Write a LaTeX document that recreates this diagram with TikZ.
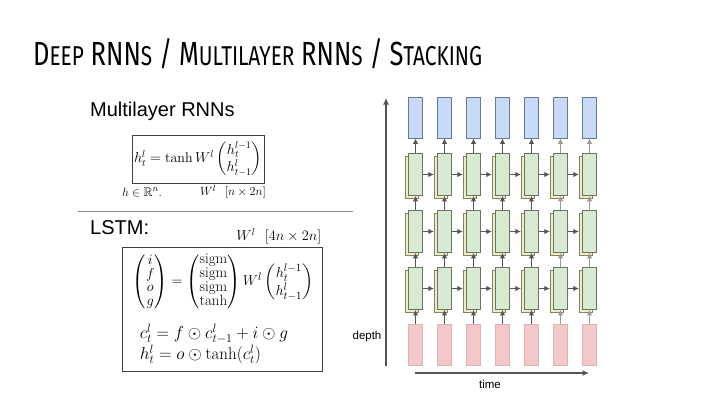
\documentclass[tikz,border=0pt]{standalone}
\usepackage{amsmath,amssymb}
\usepackage{fontspec}
\usepackage{xcolor}
\usepackage{tikz}
\usetikzlibrary{arrows.meta, positioning}

\newfontfamily\arialfont{Liberation Sans}
\newfontfamily\titlefont{Fira Sans}
\newcommand{\tsc}[2]{#1{\fontsize{22}{22}\selectfont #2}}

\definecolor{outfill}{HTML}{C9DAF8}
\definecolor{outdraw}{HTML}{687A94}
\definecolor{cellfill}{HTML}{D9EAD3}
\definecolor{celldraw}{HTML}{6E7262}
\definecolor{backfill}{HTML}{ECEECB}
\definecolor{backdraw}{HTML}{85835E}
\definecolor{infill}{HTML}{F4C7C9}
\definecolor{indraw}{HTML}{DDB3B5}
\definecolor{arrowdark}{HTML}{555555}
\definecolor{arrowlight}{HTML}{9A9A9A}

\begin{document}
\begin{tikzpicture}[x=1pt, y=-1pt,
    outbox/.style={draw=outdraw, fill=outfill, line width=0.7pt, minimum width=14pt, minimum height=41pt, inner sep=0pt},
    cellbox/.style={draw=celldraw, fill=cellfill, line width=0.7pt, minimum width=13.5pt, minimum height=42pt, inner sep=0pt},
    backbox/.style={draw=backdraw, fill=backfill, line width=0.7pt, minimum width=13.5pt, minimum height=42pt, inner sep=0pt},
    inbox/.style={draw=indraw, fill=infill, line width=0.7pt, minimum width=14pt, minimum height=41pt, inner sep=0pt},
    conn/.style={-{Latex[length=5.5pt, width=5.5pt]}, line width=1.8pt, draw=arrowdark},
    axis/.style={-{Latex[length=6.5pt, width=6pt]}, draw=arrowdark},
    eqbox/.style={draw=black!75, line width=0.9pt, inner sep=0pt, font=\fontsize{15}{17}\selectfont},
    txtlabel/.style={font=\arialfont\fontsize{20}{22}\selectfont, anchor=west, inner sep=0pt},
    axislabel/.style={font=\arialfont\fontsize{11.5}{13}\selectfont}
]
\useasboundingbox[fill=white] (0,0) rectangle (720,405);

% title
\node[anchor=base west, inner sep=0pt] (title) at (33,65)
    {\resizebox{449pt}{27pt}{\titlefont\fontsize{27}{27}\selectfont\tsc{D}{EEP} \tsc{RNN}{S} / \tsc{M}{ULTILAYER} \tsc{RNN}{S} / \tsc{S}{TACKING}}};

% formulas
\node[txtlabel] (mlrnn) at (90,111) {Multilayer RNNs};
\node[eqbox, font=\fontsize{14}{17}\selectfont, minimum width=132pt, minimum height=48pt] (rnnbox) at (198,159)
    {$h_t^l = \tanh W^l \begin{pmatrix} h_t^{l-1}\\ h_{t-1}^l \end{pmatrix}$};
\node[font=\fontsize{12.5}{14}\selectfont] (hdim) at (142,192) {$h\in\mathbb{R}^n.$};
\node[font=\fontsize{13}{15}\selectfont] (wdim) at (233,192) {$W^l\ \ [n\times 2n]$};
\draw[black!45, line width=1pt] (78,211) -- (353,211);

\node[txtlabel] (lstm) at (90,228) {LSTM:};
\node[eqbox, minimum width=200pt, minimum height=124pt, align=left] (lstmbox) at (222,309)
    {\hspace{2pt}$\renewcommand{\arraystretch}{0.8}\begin{pmatrix} i\\ f\\ o\\ g \end{pmatrix} = \begin{pmatrix} \mathrm{sigm}\\ \mathrm{sigm}\\ \mathrm{sigm}\\ \tanh \end{pmatrix} W^l \renewcommand{\arraystretch}{1}\begin{pmatrix} h_t^{l-1}\\ h_{t-1}^l \end{pmatrix}$\\[13pt]
     \fontsize{17}{21}\selectfont\hspace{9pt}$c_t^l = f\odot c_{t-1}^l + i\odot g$\\
     \fontsize{17}{21}\selectfont\hspace{9pt}$h_t^l = o\odot\tanh(c_t^l)$};
\node[above left=1pt and 0pt of lstmbox.north east, inner sep=1pt, font=\fontsize{14.5}{16}\selectfont] (wlstm) {$W^l\ \ [4n\times 2n]$};

% stacked rnn
\foreach \i in {1,...,7}{
    \pgfmathsetmacro\cx{415.5+29*(\i-1)}
    \node[outbox] (o\i) at (\cx,117.5) {};
    \foreach \r/\cy in {1/174.5, 2/231.5, 3/288.5}{
        \node[backbox] (hb\r-\i) at (\cx-3.5,\cy+2.5) {};
        \node[cellbox] (h\r-\i) at (\cx,\cy) {};
    }
    \node[inbox] (x\i) at (\cx,344.5) {};
}

\foreach \i/\col in {1/arrowdark, 2/arrowdark, 3/arrowdark, 4/arrowdark, 5/arrowdark, 6/arrowlight, 7/arrowlight}{
    \draw[conn, draw=\col] (h1-\i) -- (o\i);
    \draw[conn, draw=\col] (h2-\i) -- (h1-\i);
    \draw[conn, draw=\col] (h3-\i) -- (h2-\i);
    \draw[conn, draw=\col] (x\i) -- (h3-\i);
}
\foreach \r in {1,2,3}
    \foreach \a/\b in {1/2, 2/3, 3/4, 4/5, 5/6, 6/7}
        \draw[conn, shorten >=3.5pt] (h\r-\a.east) -- (h\r-\b.west);

\coordinate (dbot) at (386,366);
\coordinate (dtop) at (386,98);
\draw[axis, line width=1.8pt] (dbot) -- (dtop);
\coordinate (tleft) at (415,373);
\coordinate (tright) at (589,373);
\draw[axis, line width=1.3pt] (tleft) -- (tright);
\node[axislabel] (depth) at (367,337) {depth};
\node[axislabel] (time) at (490,384) {time};
\end{tikzpicture}
\end{document}
